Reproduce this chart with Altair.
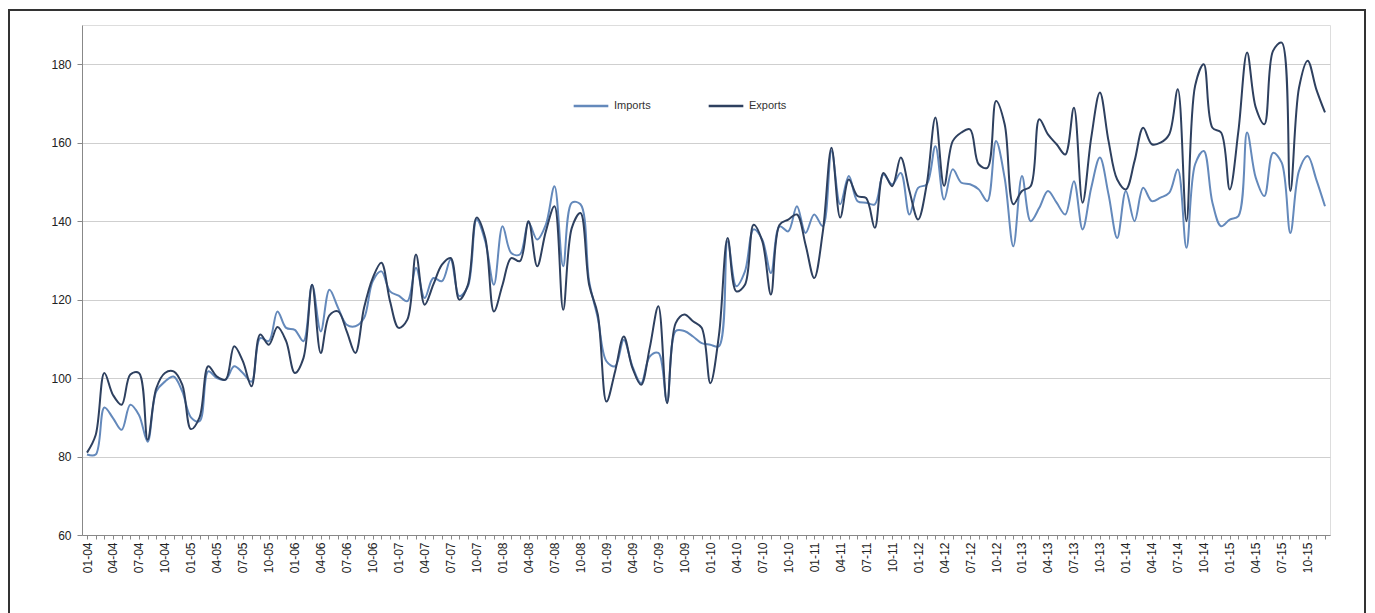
import altair as alt
import pandas as pd

years = ["04", "05", "06", "07", "08", "09", "10", "11", "12", "13", "14", "15"]
months = ["01", "02", "03", "04", "05", "06", "07", "08", "09", "10", "11", "12"]
categories = [f"{mm}-{yy}" for yy in years for mm in months]

imports = [
    80.5, 80.5, 92.5, 89.8, 86.8, 93.2, 90.6, 83.8, 96.6, 99.1, 100.4, 96.6,
    90.0, 89.0, 101.7, 100.0, 99.6, 103.0, 101.3, 99.1, 110.2, 109.4, 117.0, 112.8,
    112.3, 109.4, 123.8, 111.9, 122.5, 117.9, 113.6, 113.2, 115.3, 124.7, 127.2, 122.1,
    121.0, 119.6, 128.1, 120.4, 125.5, 124.7, 130.2, 120.9, 123.4, 140.4, 134.9, 123.8,
    138.7, 131.9, 131.5, 139.6, 135.3, 139.1, 148.9, 128.5, 144.7, 144.3, 124.7, 115.3,
    104.3, 103.0, 109.8, 103.0, 98.7, 105.5, 106.4, 94.0, 112.0, 112.0, 110.6, 108.9,
    108.5, 108.1, 134.9, 123.4, 127.2, 137.9, 135.3, 126.8, 138.7, 137.4, 143.8, 137.0,
    141.7, 138.7, 157.9, 144.3, 151.5, 145.1, 144.7, 144.3, 151.9, 149.4, 152.3, 141.7,
    148.5, 149.4, 159.1, 145.5, 153.2, 149.8, 149.4, 148.1, 145.1, 160.4, 151.0, 133.6,
    151.5, 140.0, 143.4, 147.7, 144.7, 141.7, 150.2, 137.9, 148.5, 156.2, 146.8, 135.7,
    147.7, 140.0, 148.5, 145.1, 146.0, 147.2, 153.2, 133.2, 154.5, 157.9, 144.7, 138.7,
    140.4, 141.3, 162.6, 151.1, 146.4, 157.4, 154.9, 137.0, 152.8, 156.6, 150.6, 143.8,
]

exports = [
    81.0, 85.5, 101.3, 95.7, 93.2, 100.9, 101.3, 84.3, 97.4, 101.3, 101.7, 98.3,
    87.0, 90.0, 103.0, 100.4, 99.6, 108.1, 104.3, 97.9, 111.1, 108.5, 113.0, 109.4,
    101.3, 105.1, 123.8, 106.4, 116.0, 117.0, 111.9, 106.4, 117.9, 125.5, 129.4, 119.6,
    112.8, 114.9, 131.5, 118.7, 123.8, 128.9, 130.6, 120.0, 123.8, 140.9, 135.7, 117.0,
    123.8, 130.6, 129.8, 140.0, 128.5, 137.4, 143.8, 117.4, 138.3, 142.1, 123.8, 116.2,
    94.0, 101.7, 110.6, 102.6, 98.3, 107.7, 118.3, 93.6, 114.0, 116.2, 114.5, 112.8,
    98.7, 111.0, 135.7, 122.1, 123.8, 139.1, 134.9, 121.3, 139.1, 140.4, 141.7, 134.0,
    125.5, 137.4, 158.7, 140.9, 150.6, 146.4, 145.9, 138.3, 152.3, 148.9, 156.2, 147.7,
    140.4, 149.4, 166.4, 149.0, 160.4, 162.6, 163.4, 154.5, 153.6, 170.6, 164.7, 144.3,
    147.7, 148.9, 166.0, 162.1, 159.6, 157.0, 168.9, 144.7, 161.3, 172.8, 160.4, 150.6,
    148.1, 155.3, 163.8, 159.6, 160.0, 162.1, 173.6, 140.0, 174.5, 180.0, 163.8, 162.6,
    148.1, 163.0, 183.0, 169.0, 164.7, 183.4, 185.5, 147.7, 174.0, 180.9, 173.6, 167.7,
]

series_names = ["Imports", "Exports"]
series_colors = ["#6489bb", "#2e405f"]

rows = []
for i, c in enumerate(categories):
    rows.append({"month": c, "order": i, "series": "Imports", "value": imports[i]})
    rows.append({"month": c, "order": i, "series": "Exports", "value": exports[i]})
df = pd.DataFrame(rows)

FONT = "Liberation Sans"

x_enc = alt.X(
    "month:O",
    sort=categories,
    scale=alt.Scale(type="point", padding=0.58),
    axis=alt.Axis(
        title=None,
        labelAngle=270,
        labelExpr="indexof(['01','04','07','10'], substring(datum.label,0,2)) >= 0 ? datum.label : ''",
        labelFontSize=12,
        labelFont=FONT,
        labelColor="#222222",
        labelPadding=3,
        tickSize=4,
        tickColor="#888888",
        domainColor="#888888",
        grid=False,
        labelOverlap=False,
    ),
)

lines = alt.Chart(df).mark_line(interpolate="catmull-rom", strokeWidth=2).encode(
    x=x_enc,
    y=alt.Y(
        "value:Q",
        scale=alt.Scale(domain=[60, 190], nice=False, zero=False),
        axis=alt.Axis(
            title=None,
            values=[60, 80, 100, 120, 140, 160, 180],
            labelFontSize=12,
            labelFont=FONT,
            labelColor="#222222",
            labelPadding=6,
            tickSize=5,
            tickColor="#888888",
            domainColor="#888888",
            gridColor="#cfcfcf",
            gridWidth=1,
        ),
    ),
    color=alt.Color(
        "series:N",
        scale=alt.Scale(domain=series_names, range=series_colors),
        legend=alt.Legend(
            title=None,
            orient="none",
            legendX=490,
            legendY=62,
            direction="horizontal",
            symbolType="stroke",
            symbolSize=1200,
            symbolStrokeWidth=2.5,
            labelFontSize=11,
            labelFont=FONT,
            labelColor="#333333",
            columnPadding=52,
        ),
    ),
    detail=alt.Detail("series:N"),
    order="order:Q",
)

frame = alt.Chart(pd.DataFrame({"a": [0]})).mark_rect(
    fill=None, stroke="#333333", strokeWidth=2
).encode(
    x=alt.value(-73), x2=alt.value(1283), y=alt.value(-15), y2=alt.value(610)
)

chart = alt.layer(lines, frame).properties(
    width=1248,
    height=510,
    autosize=alt.AutoSizeParams(type="none"),
    padding={"left": 74, "top": 17, "right": 37, "bottom": 78},
).configure_view(stroke=None).configure(background="white")

chart.save("out.html", embed_options={"renderer": "svg", "actions": False})
